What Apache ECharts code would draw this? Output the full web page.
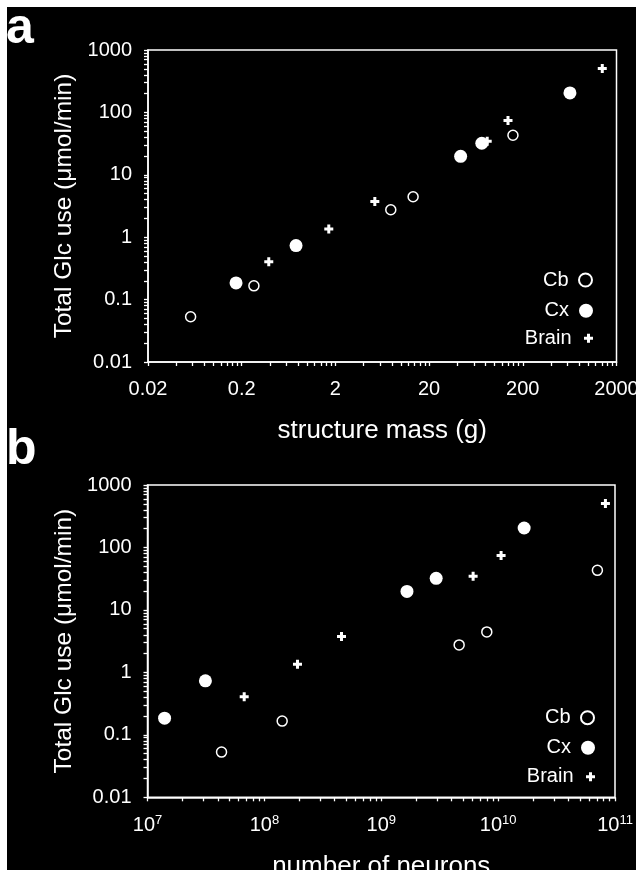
<!DOCTYPE html>
<html><head><meta charset="utf-8">
<script src="https://cdn.jsdelivr.net/npm/echarts@6/dist/echarts.min.js"></script>
<style>html,body{margin:0;padding:0;background:#000;} #c{width:636px;height:870px;}</style>
</head><body><div id="c"></div>
<script>
// ---- data ----
const seriesNames = ['Cb', 'Cx', 'Brain'];
const glcCb = [0.053, 0.166, 2.75, 4.45, 43];
const massCb = [0.057, 0.27, 7.8, 13.5, 157];
const neuronsCb = [4.3e7, 1.42e8, 4.64e9, 8.0e9, 7.07e10];
const glcCx = [0.185, 0.733, 19.8, 32, 205];
const massCx = [0.174, 0.76, 43.4, 73, 637];
const neuronsCx = [1.40e7, 3.13e7, 1.66e9, 2.95e9, 1.67e10];
const glcBrain = [0.406, 1.35, 3.74, 34.5, 74.4, 507];
const massBrain = [0.389, 1.70, 5.27, 83.4, 139, 1410];
const neuronsBrain = [6.72e7, 1.92e8, 4.57e8, 6.11e9, 1.06e10, 8.28e10];

// ---- tick labels ----
const massTicks = [0.02, 0.2, 2, 20, 200, 2000];
const massTickLabels = ['0.02', '0.2', '2', '20', '200', '2000'];
const glcTicks = [0.01, 0.1, 1, 10, 100, 1000];
const glcTickLabels = ['0.01', '0.1', '1', '10', '100', '1000'];
const neuronTicks = [1e7, 1e8, 1e9, 1e10, 1e11];
const neuronTickExps = ['7', '8', '9', '10', '11'];

const FONT = "'Liberation Sans', Arial, Helvetica, sans-serif";
const WHITE = '#ffffff';

function allTicks(majors) {
  const out = [];
  majors.forEach((m, i) => {
    out.push(m);
    if (i < majors.length - 1) {
      for (let k = 2; k <= 9; k++) out.push(Number((m * k).toPrecision(10)));
    }
  });
  return out;
}
function nearestIndex(ticks, v) {
  let best = 0, bd = Infinity;
  ticks.forEach((t, i) => {
    const d = Math.abs(Math.log10(v) - Math.log10(t));
    if (d < bd) { bd = d; best = i; }
  });
  return best;
}
const zip = (xs, ys) => xs.map((x, i) => [x, ys[i]]);

const PLUS = 'path://M3,0H6V3H9V6H6V9H3V6H0V3H3Z';

function xAxisCfg(gi, min, max, ticks, fmt, name, gap) {
  return {
    type: 'log', logBase: 10, gridIndex: gi, min: min, max: max,
    axisLine: { show: true, onZero: false, lineStyle: { color: WHITE, width: 1.5 } },
    axisTick: { show: true, length: 4, lineStyle: { color: WHITE, width: 1.3 }, customValues: allTicks(ticks) },
    axisLabel: { customValues: ticks, formatter: fmt, color: WHITE, fontSize: 20, fontFamily: FONT, margin: 17,
      showMinLabel: true, showMaxLabel: true, hideOverlap: false,
      rich: { b: { fontSize: 20, fontFamily: FONT, color: WHITE, lineHeight: 22 },
              s: { fontSize: 13, fontFamily: FONT, color: WHITE, verticalAlign: 'top', lineHeight: 14, padding: [0, 0, 6, 0] } } },
    splitLine: { show: false }, minorTick: { show: false }, minorSplitLine: { show: false },
    name: name, nameLocation: 'middle', nameGap: gap, nameMoveOverlap: false,
    nameTextStyle: { color: WHITE, fontSize: 26, fontFamily: FONT }
  };
}
function yAxisCfg(gi) {
  return {
    type: 'log', logBase: 10, gridIndex: gi, min: 0.01, max: 1000,
    axisLine: { show: true, onZero: false, lineStyle: { color: WHITE, width: 1.5 } },
    axisTick: { show: true, length: 4, lineStyle: { color: WHITE, width: 1.3 }, customValues: allTicks(glcTicks) },
    axisLabel: { customValues: glcTicks, formatter: v => glcTickLabels[nearestIndex(glcTicks, v)],
      color: WHITE, fontSize: 20, fontFamily: FONT, margin: 16, showMinLabel: true, showMaxLabel: true, hideOverlap: false },
    splitLine: { show: false }, minorTick: { show: false }, minorSplitLine: { show: false },
    name: 'Total Glc use (\u03BCmol/min)', nameLocation: 'middle', nameGap: 71, nameRotate: 90, nameMoveOverlap: false,
    nameTextStyle: { color: WHITE, fontSize: 24.5, fontFamily: FONT }
  };
}
function seriesFor(gi, xs) {
  return [
    { name: 'Brain', type: 'scatter', xAxisIndex: gi, yAxisIndex: gi, data: zip(xs[2], glcBrain),
      symbol: PLUS, symbolSize: 9, itemStyle: { color: WHITE, opacity: 1 }, z: 2 },
    { name: 'Cb', type: 'scatter', xAxisIndex: gi, yAxisIndex: gi, data: zip(xs[0], glcCb),
      symbol: 'circle', symbolSize: 10, itemStyle: { color: 'rgba(0,0,0,0)', borderColor: WHITE, borderWidth: 1.5, opacity: 1 }, z: 3 },
    { name: 'Cx', type: 'scatter', xAxisIndex: gi, yAxisIndex: gi, data: zip(xs[1], glcCx),
      symbol: 'circle', symbolSize: 13, itemStyle: { color: WHITE, opacity: 1 }, z: 4 }
  ];
}
function leg(name, top, right, h) {
  return { data: [name], orient: 'vertical', align: 'right', right: right, top: top, padding: 0,
    itemWidth: 24, itemHeight: h, itemGap: 0, selectedMode: false, symbolKeepAspect: true,
    textStyle: { color: WHITE, fontSize: 20, fontFamily: FONT, lineHeight: 20 } };
}

const neuronFmt = v => '{b|10}{s|' + neuronTickExps[nearestIndex(neuronTicks, v)] + '}';
const massFmt = v => massTickLabels[nearestIndex(massTicks, v)];

const option = {
  backgroundColor: '#000',
  animation: false,
  grid: [
    { left: 148, top: 50, width: 468.5, height: 312, show: true, borderColor: WHITE, borderWidth: 1.5,
      backgroundColor: 'transparent', outerBoundsMode: 'none', containLabel: false },
    { left: 147.5, top: 485, width: 467.5, height: 312.3, show: true, borderColor: WHITE, borderWidth: 1.5,
      backgroundColor: 'transparent', outerBoundsMode: 'none', containLabel: false }
  ],
  xAxis: [
    xAxisCfg(0, 0.02, 2000, massTicks, massFmt, 'structure mass (g)', 56),
    xAxisCfg(1, 1e7, 1e11, neuronTicks, neuronFmt, 'number of neurons', 56.5)
  ],
  yAxis: [yAxisCfg(0), yAxisCfg(1)],
  legend: [
    leg('Cb', 270, 43, 13), leg('Cx', 300.7, 43, 14), leg('Brain', 328.3, 43, 9),
    leg('Cb', 707.7, 41, 13), leg('Cx', 737.7, 41, 14), leg('Brain', 766.7, 41, 9)
  ],
  series: [].concat(
    seriesFor(0, [massCb, massCx, massBrain]),
    seriesFor(1, [neuronsCb, neuronsCx, neuronsBrain])
  ),
  graphic: [
    { type: 'rect', shape: { x: 0, y: 0, width: 636, height: 7 }, style: { fill: WHITE }, z: 100 },
    { type: 'rect', shape: { x: 0, y: 0, width: 7, height: 870 }, style: { fill: WHITE }, z: 100 },
    { type: 'text', left: 6, top: 4, style: { text: 'a', fill: WHITE, font: "bold 50px " + FONT }, z: 50 },
    { type: 'text', left: 6, top: 425, style: { text: 'b', fill: WHITE, font: "bold 50px " + FONT }, z: 50 }
  ]
};
const chart = echarts.init(document.getElementById('c'), null, { renderer: 'canvas' });
chart.setOption(option);
</script>
</body></html>
